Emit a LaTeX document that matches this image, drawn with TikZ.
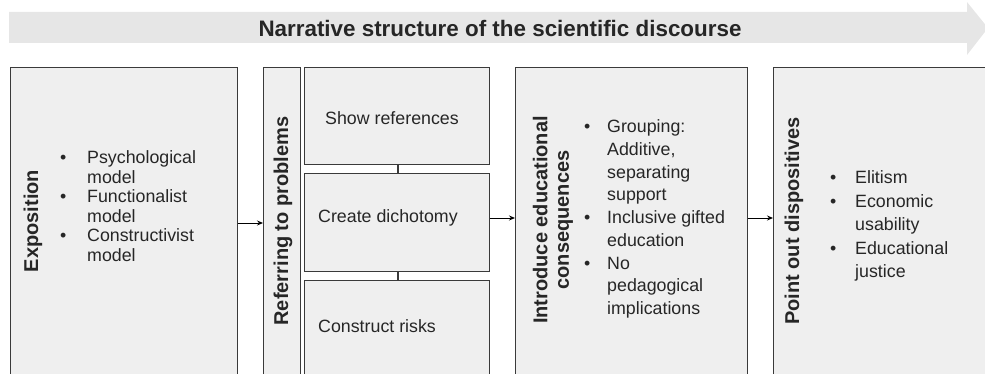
\documentclass[tikz,border=0pt]{standalone}
\usepackage{fontspec}
\setmainfont{Liberation Sans}
\usetikzlibrary{arrows.meta}
\definecolor{boxfill}{HTML}{EFEFEF}
\definecolor{bandfill}{HTML}{E6E6E6}
\definecolor{edge}{HTML}{3A3A3A}
\tikzset{
  box/.style={draw=edge, line width=1.2pt, fill=boxfill, anchor=north west, inner sep=0pt},
  head/.style={font=\fontsize{20}{22}\selectfont\bfseries, rotate=90, inner sep=0pt, text=black!85},
  body/.style={font=\fontsize{17.8}{19.5}\selectfont, align=left, anchor=west, inner sep=0pt, text=black!85},
  conn/.style={draw=black, line width=0.9pt, -{Stealth[length=6pt,width=5pt]}},
  link/.style={draw=edge, line width=1.2pt},
}
\newcommand{\bul}[1]{\makebox[#1][l]{\textbullet}}
\begin{document}
\begin{tikzpicture}[x=1pt,y=-1pt]
\useasboundingbox (0,0) rectangle (985,374);
\clip (0,0) rectangle (985,374);
% top band arrow
\fill[bandfill] (9,12) -- (967,12) -- (967,2) -- (988,28) -- (967,55) -- (967,43) -- (9,43) -- cycle;
\node[font=\fontsize{22.4}{24}\selectfont\bfseries, text=black!85] (title) at (500,28) {Narrative structure of the scientific discourse};
% boxes
\node[box, minimum width=227pt, minimum height=320pt] (expo) at (10,67) {};
\node[box, minimum width=37pt, minimum height=320pt] (refer) at (263,67) {};
\node[box, minimum width=185pt, minimum height=97pt] (show) at (304,67) {};
\node[box, minimum width=185pt, minimum height=98pt] (create) at (304,173) {};
\node[box, minimum width=185pt, minimum height=110pt] (construct) at (304,280) {};
\node[box, minimum width=232pt, minimum height=320pt] (intro) at (515,67) {};
\node[box, minimum width=220pt, minimum height=320pt] (point) at (773,67) {};
% headings
\node[head] (expoT) at (33,221) {Exposition};
\node[head] (referT) at (283,221) {Referring to problems};
\node[head, align=center, font=\fontsize{20}{21.5}\selectfont\bfseries] (introT) at (553,220) {Introduce educational\\consequences};
\node[head] (pointT) at (794,221) {Point out dispositives};
% sub-box texts
\node[body, anchor=center] (showT) at (392,118) {Show references};
\node[body] (createT) at (318,218) {Create dichotomy};
\node[body] (constructT) at (318,326) {Construct risks};
% lists
\node[body] (expoL) at (60,206) {\bul{27pt}Psychological\\\hspace*{27pt}model\\\bul{27pt}Functionalist\\\hspace*{27pt}model\\\bul{27pt}Constructivist\\\hspace*{27pt}model};
\node[body, font=\fontsize{17.8}{22.7}\selectfont] (introL) at (584,219) {\bul{23pt}Grouping:\\\hspace*{23pt}Additive,\\\hspace*{23pt}separating\\\hspace*{23pt}support\\\bul{23pt}Inclusive gifted\\\hspace*{23pt}education\\\bul{23pt}No\\\hspace*{23pt}pedagogical\\\hspace*{23pt}implications};
\node[body, font=\fontsize{17.8}{23.5}\selectfont] (pointL) at (830,226) {\bul{25pt}Elitism\\\bul{25pt}Economic\\\hspace*{25pt}usability\\\bul{25pt}Educational\\\hspace*{25pt}justice};
% connectors
\draw[conn] (expo.east |- 0,223) -- (refer.west |- 0,223);
\draw[conn] (create.east |- 0,218) -- (intro.west |- 0,218);
\draw[conn] (intro.east |- 0,218) -- (point.west |- 0,218);
\draw[link] (show.south -| 398,0) -- (create.north -| 398,0);
\draw[link] (create.south -| 398,0) -- (construct.north -| 398,0);
\end{tikzpicture}
\end{document}
